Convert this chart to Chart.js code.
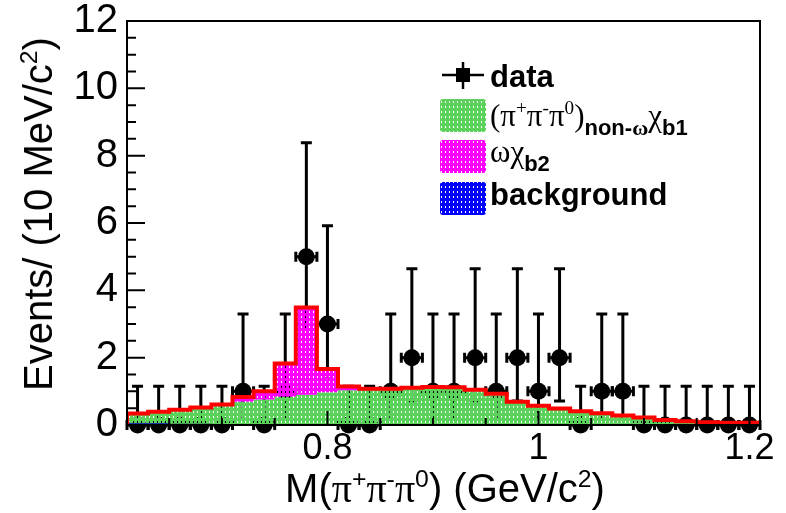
<!DOCTYPE html>
<html>
<head>
<meta charset="utf-8">
<script src="https://cdn.jsdelivr.net/npm/chart.js@4.4.1/dist/chart.umd.min.js"></script>
<style>
  html, body { margin: 0; padding: 0; background: #fff; }
  #wrap { position: relative; width: 786px; height: 513px; font-family: "Liberation Sans", Arial, sans-serif; color: #000; }
  #chart { position: absolute; left: 0; top: 0; }
  .gr { font-family: "Liberation Serif", "Times New Roman", serif; }
  sup { font-size: 0.62em; vertical-align: 0.62em; line-height: 0; }
  .ytitle { position: absolute; left: 38px; top: 214px; transform: translate(-50%, -50%) rotate(-90deg); font-size: 40px; line-height: 1; white-space: nowrap; }
  .xtitle { position: absolute; left: 445px; top: 468px; transform: translateX(-50%); font-size: 40px; line-height: 1; white-space: nowrap; }
  .leg { position: absolute; left: 490px; font-size: 31px; line-height: 1; white-space: nowrap; }
  .leg b { font-weight: bold; }
  .leg .sub { font-size: 22px; font-weight: bold; position: relative; top: 9px; }
</style>
</head>
<body>
<div id="wrap">
  <canvas id="chart" width="786" height="513"></canvas>
  <div class="ytitle">Events/ (10 MeV/c<sup>2</sup>)</div>
  <div class="xtitle">M(<span class="gr">π</span><sup>+</sup><span class="gr">π</span><sup>-</sup><span class="gr">π</span><sup>0</sup>) (GeV/c<sup>2</sup>)</div>
  <div class="leg" style="top:61px"><b>data</b></div>
  <div class="leg" style="top:100px"><span class="gr">(π<sup>+</sup>π<sup>-</sup>π<sup>0</sup>)</span><span class="sub">non-<span class="gr">ω</span></span><span class="gr">χ</span><span class="sub">b1</span></div>
  <div class="leg" style="top:136px"><span class="gr">ωχ</span><span class="sub">b2</span></div>
  <div class="leg" style="top:179px"><b>background</b></div>
</div>
<script>
// 20 MeV bins between 0.61 and 1.21 GeV/c2
const binCenters = [0.62, 0.64, 0.66, 0.68, 0.70, 0.72, 0.74, 0.76, 0.78, 0.80,
                    0.82, 0.84, 0.86, 0.88, 0.90, 0.92, 0.94, 0.96, 0.98, 1.00,
                    1.02, 1.04, 1.06, 1.08, 1.10, 1.12, 1.14, 1.16, 1.18, 1.20];
const binWidth = 0.02;

// observed events per bin
const counts = [0, 0, 0, 0, 0, 1, 0, 1, 5, 3,
                0, 0, 1, 2, 1, 1, 2, 1, 2, 1,
                2, 0, 1, 1, 0, 0, 0, 0, 0, 0];

// asymmetric Poisson errors, indexed by the number of events
const poissonErrUp = [1.15, 2.30, 2.64, 2.92, 3.16, 3.38];
const poissonErrDown = [0, 0.83, 1.29, 1.63, 1.91, 2.16];

// fitted components (stacked: background, non-omega, omega)
const backgroundYield = [0.05, 0.05, 0.04, 0.04, 0.03, 0.03, 0.02, 0.02, 0.01, 0.01,
                         0.01, 0, 0, 0, 0, 0, 0, 0, 0, 0,
                         0, 0, 0, 0, 0, 0, 0, 0, 0, 0];
const nonOmegaYield = [0.29, 0.34, 0.41, 0.48, 0.56, 0.66, 0.74, 0.82, 0.89, 0.96,
                       1.02, 1.05, 1.08, 1.11, 1.13, 1.12, 1.05, 0.93, 0.69, 0.57,
                       0.49, 0.41, 0.35, 0.28, 0.22, 0.15, 0.11, 0.08, 0.07, 0.07];
const omegaYield = [0, 0, 0, 0, 0.02, 0.14, 0.24, 0.99, 2.59, 0.69,
                    0.11, 0.03, 0, 0, 0, 0, 0, 0, 0, 0,
                    0, 0, 0, 0, 0, 0, 0, 0, 0, 0];

const yTickValues = [0, 2, 4, 6, 8, 10, 12];
const xTickValues = [0.8, 1.0, 1.2];
const xTickLabels = ['0.8', '1', '1.2'];

const FONT = '"Liberation Sans", Arial, sans-serif';
const GREEN = '#5bd35b';
const MAGENTA = '#ff00ff';
const BLUE = '#0000ff';

const canvas = document.getElementById('chart');
const ctx = canvas.getContext('2d');

// dotted fill, ROOT style: solid colour with small see-through holes
function makePattern(color) {
  const tile = document.createElement('canvas');
  tile.width = 4;
  tile.height = 5;
  const t = tile.getContext('2d');
  t.fillStyle = color;
  t.fillRect(0, 0, 4, 5);
  t.clearRect(1, 1, 1, 2);
  return ctx.createPattern(tile, 'repeat');
}
const greenFill = makePattern(GREEN);
const magentaFill = makePattern(MAGENTA);
const blueFill = makePattern(BLUE);

// running sums for the stack
const bgTop = backgroundYield.slice();
const nonOmegaTop = bgTop.map((v, i) => v + nonOmegaYield[i]);
const totalTop = nonOmegaTop.map((v, i) => v + omegaYield[i]);

// one point per bin edge, last value repeated at the right edge
function stepPoints(values) {
  const pts = values.map((v, i) => ({ x: binCenters[i] - binWidth / 2, y: v }));
  pts.push({ x: binCenters[values.length - 1] + binWidth / 2, y: values[values.length - 1] });
  return pts;
}

const xMin = binCenters[0] - binWidth / 2;
const xMax = binCenters[binCenters.length - 1] + binWidth / 2;
const outline = [{ x: xMin, y: 0 }, ...stepPoints(totalTop), { x: xMax, y: 0 }];

const errorBars = {
  id: 'errorBars',
  beforeDatasetsDraw(chart) {
    const { ctx, scales: { x, y } } = chart;
    ctx.save();
    ctx.strokeStyle = '#000';
    ctx.lineWidth = 3;
    ctx.lineCap = 'butt';
    counts.forEach((n, i) => {
      const px = x.getPixelForValue(binCenters[i]);
      const py = y.getPixelForValue(n);
      const yHi = y.getPixelForValue(n + poissonErrUp[n]);
      const yLo = y.getPixelForValue(n - poissonErrDown[n]);
      const xl = x.getPixelForValue(binCenters[i] - binWidth / 2);
      const xr = x.getPixelForValue(binCenters[i] + binWidth / 2);
      ctx.beginPath();
      ctx.moveTo(px, yHi); ctx.lineTo(px, yLo);
      ctx.moveTo(px - 5.5, yHi); ctx.lineTo(px + 5.5, yHi);
      if (n > 0) { ctx.moveTo(px - 5.5, yLo); ctx.lineTo(px + 5.5, yLo); }
      ctx.moveTo(xl, py); ctx.lineTo(xr, py);
      ctx.moveTo(xl, py - 5); ctx.lineTo(xl, py + 5);
      ctx.moveTo(xr, py - 5); ctx.lineTo(xr, py + 5);
      ctx.stroke();
    });
    ctx.restore();
  }
};

// frame plus inward-pointing ticks
const frameAndTicks = {
  id: 'frameAndTicks',
  afterDatasetsDraw(chart) {
    const { ctx, chartArea: a, scales: { x, y } } = chart;
    ctx.save();
    ctx.strokeStyle = '#000';
    ctx.lineWidth = 2;
    ctx.beginPath();
    for (let k = 0; k <= 24; k++) {
      const py = y.getPixelForValue(k * 0.5);
      const len = k % 4 === 0 ? 18 : 9;
      ctx.moveTo(a.left, py); ctx.lineTo(a.left + len, py);
    }
    for (let k = 13; k <= 24; k++) {
      const px = x.getPixelForValue(k * 0.05);
      const len = k % 4 === 0 ? 14 : 7;
      ctx.moveTo(px, a.bottom); ctx.lineTo(px, a.bottom - len);
    }
    ctx.stroke();
    ctx.strokeRect(a.left, a.top, a.right - a.left, a.bottom - a.top);
    ctx.restore();
  }
};

// legend symbols (text sits in the page next to them)
const legendIcons = {
  id: 'legendIcons',
  afterDraw(chart) {
    const { ctx } = chart;
    ctx.save();
    ctx.strokeStyle = '#000';
    ctx.lineWidth = 2.5;
    ctx.beginPath();
    ctx.moveTo(442, 75); ctx.lineTo(484, 75);
    ctx.moveTo(463, 62); ctx.lineTo(463, 89);
    ctx.stroke();
    ctx.fillStyle = '#000';
    ctx.fillRect(456, 68, 14, 14);
    [[greenFill, 99], [magentaFill, 140], [blueFill, 182]].forEach(([fill, top]) => {
      ctx.fillStyle = fill;
      ctx.beginPath();
      ctx.roundRect(440, top, 46, 33, 3);
      ctx.fill();
    });
    ctx.restore();
  }
};

const hidden = 'rgba(0,0,0,0)';

new Chart(ctx, {
  type: 'line',
  data: {
    datasets: [
      {
        type: 'scatter',
        label: 'data',
        data: counts.map((n, i) => ({ x: binCenters[i], y: n })),
        pointRadius: 8.5,
        pointBackgroundColor: '#000',
        pointBorderWidth: 0,
        clip: false,
        order: 10
      },
      {
        label: 'background',
        data: stepPoints(bgTop),
        stepped: true,
        borderColor: hidden,
        borderWidth: 1,
        pointRadius: 0,
        backgroundColor: blueFill,
        fill: 'origin',
        order: 4
      },
      {
        label: 'non-omega chi_b1',
        data: stepPoints(nonOmegaTop),
        stepped: true,
        borderColor: hidden,
        borderWidth: 1,
        pointRadius: 0,
        backgroundColor: greenFill,
        fill: 1,
        order: 3
      },
      {
        label: 'omega chi_b2',
        data: stepPoints(totalTop),
        stepped: true,
        borderColor: hidden,
        borderWidth: 1,
        pointRadius: 0,
        backgroundColor: magentaFill,
        fill: 2,
        order: 2
      },
      {
        label: 'total',
        data: outline,
        stepped: true,
        borderColor: '#ff0000',
        borderWidth: 4,
        borderJoinStyle: 'miter',
        pointRadius: 0,
        fill: false,
        order: 1
      }
    ]
  },
  options: {
    responsive: false,
    animation: false,
    layout: { padding: { left: 0, top: 18, right: 26, bottom: 0 } },
    plugins: {
      legend: { display: false },
      tooltip: { enabled: false }
    },
    scales: {
      x: {
        type: 'linear',
        min: xMin,
        max: xMax,
        afterBuildTicks: (scale) => { scale.ticks = xTickValues.map(v => ({ value: v })); },
        afterFit: (scale) => { scale.height = 88; },
        grid: { display: false, drawTicks: false },
        border: { display: false },
        ticks: {
          autoSkip: false,
          maxRotation: 0,
          padding: 6,
          color: '#000',
          font: { family: FONT, size: 36, lineHeight: 1 },
          callback: (value, index) => xTickLabels[index]
        }
      },
      y: {
        min: 0,
        max: 12,
        afterBuildTicks: (scale) => { scale.ticks = yTickValues.map(v => ({ value: v })); },
        afterFit: (scale) => { scale.width = 127; },
        grid: { display: false, drawTicks: false },
        border: { display: false },
        ticks: {
          padding: 9,
          color: '#000',
          font: { family: FONT, size: 40, lineHeight: 0.6 }
        }
      }
    }
  },
  plugins: [errorBars, frameAndTicks, legendIcons]
});
</script>
</body>
</html>
